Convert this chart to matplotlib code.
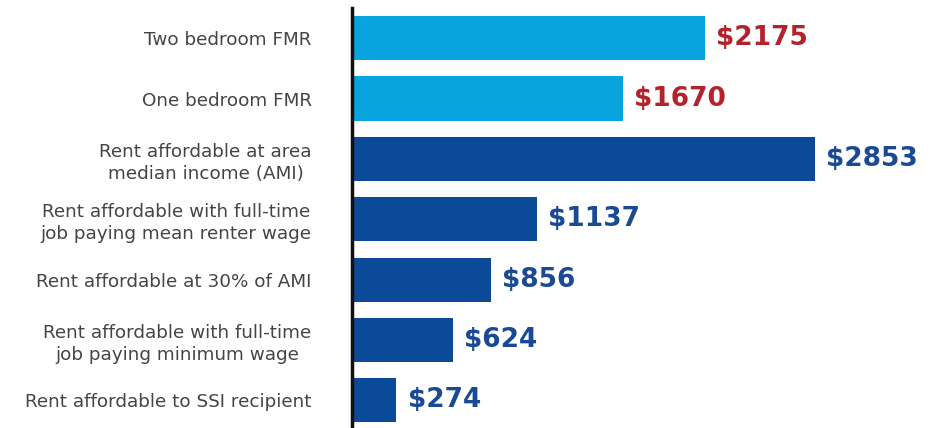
import matplotlib
matplotlib.use("Agg")
import matplotlib.pyplot as plt

categories = [
    "Two bedroom FMR",
    "One bedroom FMR",
    "Rent affordable at area\nmedian income (AMI)",
    "Rent affordable with full-time\njob paying mean renter wage",
    "Rent affordable at 30% of AMI",
    "Rent affordable with full-time\njob paying minimum wage",
    "Rent affordable to SSI recipient",
]
values = [2175, 1670, 2853, 1137, 856, 624, 274]
value_labels = ["$2175", "$1670", "$2853", "$1137", "$856", "$624", "$274"]
bar_colors = ["#06A3DE", "#06A3DE", "#0B4A99", "#0B4A99", "#0B4A99", "#0B4A99", "#0B4A99"]
label_colors = ["#B3232B", "#B3232B", "#1A4A93", "#1A4A93", "#1A4A93", "#1A4A93", "#1A4A93"]

W, H = 943, 428
fig = plt.figure(figsize=(W / 100, H / 100), dpi=100)
ax = fig.add_axes([352 / W, 0, 1 - 352 / W, 420 / H])

y = list(range(len(categories)))
ax.barh(y, values, height=0.73, color=bar_colors)
ax.set_ylim(6.46, -0.5)
ax.set_xlim(0, 3642)

for yi, v, lab, c in zip(y, values, value_labels, label_colors):
    ax.annotate(lab, (v, yi), xytext=(8, 0), textcoords="offset points",
                ha="left", va="center", fontsize=19, fontweight="bold",
                color=c, family="DejaVu Sans")

ax.set_yticks(y)
ax.set_yticklabels(categories, fontsize=13.2, color="#444444", family="DejaVu Sans",
                   multialignment="center", linespacing=1.3)
ax.tick_params(axis="y", length=0, pad=29)
ax.set_xticks([])
for s in ["top", "right", "bottom"]:
    ax.spines[s].set_visible(False)
ax.spines["left"].set_linewidth(2.5)
ax.spines["left"].set_color("#111111")

fig.savefig("out.png", dpi=100)
